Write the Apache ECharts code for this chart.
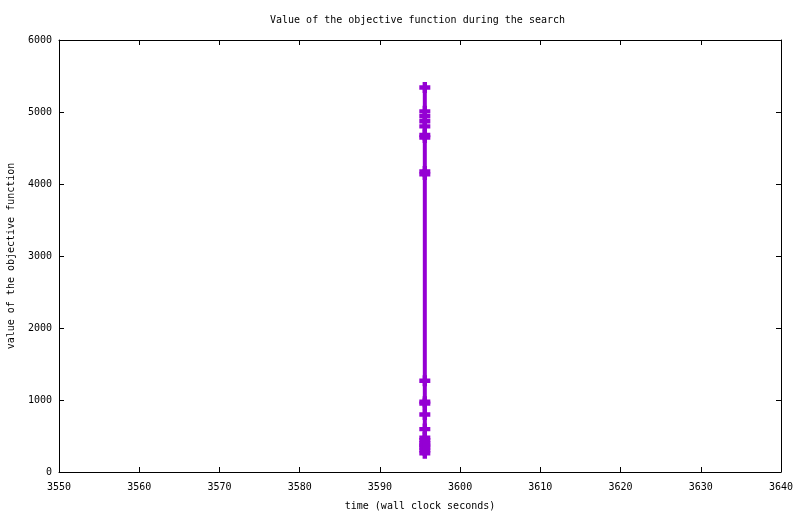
<!DOCTYPE html>
<html>
<head>
<meta charset="utf-8">
<script src="https://cdn.jsdelivr.net/npm/echarts@6/dist/echarts.min.js"></script>
<style>html,body{margin:0;padding:0;background:#fff;}#c{width:800px;height:514px;}</style>
</head>
<body>
<div id="c"></div>
<script>
const title = "Value of the objective function during the search";
const xName = "time (wall clock seconds)";
const yName = "value of the objective function";
const xTicks = [3550, 3640, 10];
const yTicks = [0, 6000, 1000];
const times = [3595.6, 3595.6, 3595.6, 3595.6, 3595.6, 3595.6, 3595.6, 3595.6, 3595.6, 3595.6, 3595.6, 3595.6, 3595.6, 3595.6, 3595.6, 3595.6, 3595.6, 3595.6, 3595.6, 3595.6, 3595.6];
const values = [5340, 5009, 4940, 4871, 4801, 4681, 4646, 4175, 4133, 1268, 977, 949, 798, 596, 478, 440, 400, 370, 340, 300, 260];

const font = "DejaVu Sans Mono";
const plus = 'path://M3,0H7V3H10V7H7V10H3V7H0V3H3Z';
const chart = echarts.init(document.getElementById('c'), null, {renderer: 'canvas'});
const tickStyle = {show: true, inside: true, length: 5, lineStyle: {color: '#000', width: 1}};
const lineAx = {show: true, onZero: false, lineStyle: {color: '#000', width: 1}};
const fmt = v => String(v);
chart.setOption({
  animation: false,
  backgroundColor: '#fff',
  title: {text: title, left: 265, top: 10, textStyle: {fontFamily: font, fontSize: 10, fontWeight: 'normal', color: '#000'}},
  grid: {left: 59, top: 40, width: 722, height: 432, show: false, containLabel: false, outerBoundsMode: 'none'},
  xAxis: [
    {type: 'value', min: xTicks[0], max: xTicks[1], interval: xTicks[2], position: 'bottom',
     name: xName, nameLocation: 'middle', nameGap: 29, nameTextStyle: {fontFamily: font, fontSize: 10, color: '#000'},
     axisLine: lineAx, axisTick: tickStyle, splitLine: {show: false},
     axisLabel: {fontFamily: font, fontSize: 10, color: '#000', margin: 10, formatter: fmt}},
    {type: 'value', min: xTicks[0], max: xTicks[1], interval: xTicks[2], position: 'top',
     axisLine: lineAx, axisTick: tickStyle, splitLine: {show: false}, axisLabel: {show: false}}
  ],
  yAxis: [
    {type: 'value', min: yTicks[0], max: yTicks[1], interval: yTicks[2], position: 'left',
     name: yName, nameLocation: 'middle', nameGap: 43, nameTextStyle: {fontFamily: font, fontSize: 10, color: '#000'},
     axisLine: lineAx, axisTick: tickStyle, splitLine: {show: false},
     axisLabel: {fontFamily: font, fontSize: 10, color: '#000', margin: 7, formatter: fmt}},
    {type: 'value', min: yTicks[0], max: yTicks[1], interval: yTicks[2], position: 'right',
     axisLine: lineAx, axisTick: tickStyle, splitLine: {show: false}, axisLabel: {show: false}}
  ],
  series: [{
    type: 'line',
    data: times.map((t, i) => [t, values[i]]),
    symbol: plus,
    symbolSize: [11, 11],
    showAllSymbol: true,
    lineStyle: {color: '#9400D3', width: 4},
    itemStyle: {color: '#9400D3', borderWidth: 0},
    emphasis: {disabled: true}
  }]
});
</script>
</body>
</html>
